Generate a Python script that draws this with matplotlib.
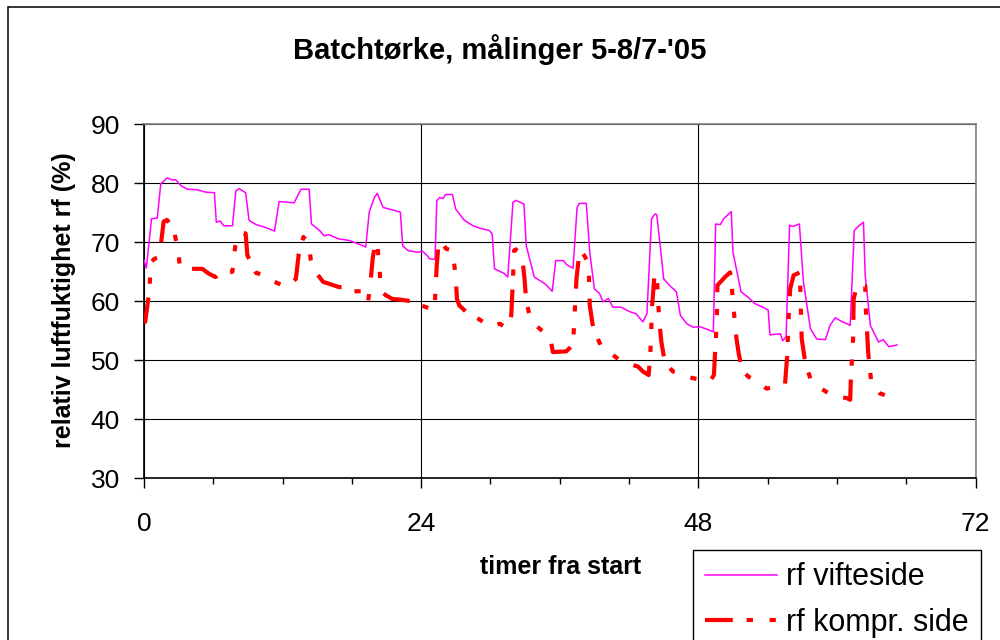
import numpy as np
import matplotlib
matplotlib.use("Agg")
import matplotlib.pyplot as plt
from matplotlib.patches import Rectangle

plt.rcParams['font.family'] = ['Liberation Sans', 'DejaVu Sans']
plt.rcParams['lines.scale_dashes'] = False

# rf vifteside (timer, %)
vifte_t = [0.0, 0.2, 0.65, 1.15, 1.45, 2.0, 2.4, 2.75, 3.2, 3.75, 4.6, 5.35, 6.1, 6.26, 6.6, 6.9, 7.66,
           7.95, 8.24, 8.8, 9.1, 9.7, 10.55, 11.3, 11.7, 13.0, 13.6, 14.3, 14.5, 15.2, 15.6, 16.0, 16.8,
           17.8, 18.6, 19.2, 19.5, 19.95, 20.2, 20.7, 21.5, 22.2, 22.4, 22.85, 23.7, 24.1, 24.6, 24.7,
           25.2, 25.35, 25.6, 25.9, 26.1, 26.7, 27.0, 27.75, 28.5, 29.05, 29.9, 30.15, 30.35, 31.2, 31.5,
           31.95, 32.2, 32.9, 33.1, 33.8, 34.7, 35.35, 35.65, 36.3, 36.6, 37.15, 37.5, 37.7, 38.3, 38.6,
           39.0, 39.45, 39.75, 40.2, 40.6, 41.3, 42.1, 42.6, 43.2, 43.55, 43.95, 44.25, 44.4, 44.7, 45.0,
           45.5, 46.1, 46.45, 47.0, 47.55, 48.1, 48.7, 49.3, 49.5, 49.9, 50.2, 50.85, 51.0, 51.7, 52.3,
           52.9, 53.6, 54.05, 54.2, 55.1, 55.3, 55.6, 55.9, 56.2, 56.75, 57.1, 57.7, 58.25, 59.0, 59.4,
           59.85, 60.4, 60.85, 61.15, 61.5, 61.9, 62.3, 62.45, 62.9, 63.6, 64.0, 64.5, 65.2]
vifte_rf = [67.0, 65.6, 74.0, 74.1, 79.9, 80.9, 80.6, 80.6, 79.6, 79.0, 78.9, 78.5, 78.4, 73.4, 73.6, 72.8, 72.8,
            78.7, 79.1, 78.4, 73.7, 73.0, 72.5, 71.9, 76.9, 76.7, 79.0, 79.0, 73.1, 72.0, 71.1, 71.3, 70.6,
            70.3, 69.7, 69.2, 75.1, 77.6, 78.3, 75.9, 75.5, 75.1, 69.4, 68.6, 68.3, 68.5, 67.6, 67.2,
            67.1, 77.0, 77.6, 77.4, 78.1, 78.1, 75.6, 73.7, 72.8, 72.4, 72.0, 71.4, 65.5, 64.7, 64.1,
            76.8, 77.1, 76.5, 69.4, 64.1, 63.0, 61.7, 66.9, 66.9, 66.2, 65.6, 75.9, 76.6, 76.6, 68.3,
            62.1, 61.3, 59.9, 60.5, 59.0, 59.0, 58.2, 57.9, 56.5, 57.9, 74.0, 74.8, 74.7, 69.4, 63.8,
            62.7, 61.6, 57.6, 56.2, 55.6, 55.7, 55.3, 54.8, 73.1, 73.0, 74.0, 75.2, 68.3, 61.6, 60.7,
            59.6, 59.0, 58.5, 54.3, 54.5, 53.3, 54.0, 72.9, 72.7, 73.1, 63.3, 55.4, 53.6, 53.5, 55.9,
            57.2, 56.6, 56.2, 55.9, 72.0, 72.8, 73.4, 64.4, 55.9, 53.1, 53.5, 52.3, 52.6]

# rf kompr. side (timer, %)
kompr_t = [0.0, 0.1, 0.45, 0.6, 0.9, 1.2, 1.45, 1.7, 2.0, 2.6, 3.0, 3.1, 3.5, 3.75, 5.05, 5.6, 6.2, 6.5, 7.65,
           7.9, 8.1, 8.5, 8.8, 8.95, 9.7, 10.55, 11.3, 12.0, 12.3, 13.15, 13.4, 13.8, 14.25, 14.45, 14.6,
           15.2, 15.5, 16.9, 17.5, 18.2, 19.1, 19.4, 19.6, 19.8, 20.0, 20.2, 20.4, 20.5, 20.95, 21.5,
           22.1, 23.55, 24.0, 25.15, 25.35, 25.5, 25.8, 26.15, 26.7, 26.8, 27.0, 27.1, 27.3, 27.9, 28.5,
           29.6, 30.1, 30.8, 31.45, 31.8, 31.95, 32.05, 32.2, 32.75, 32.95, 33.1, 33.5, 33.95, 35.2, 35.4,
           36.55, 37.15, 37.3, 37.45, 37.7, 37.9, 38.2, 38.5, 38.55, 38.6, 38.9, 39.6, 40.6, 41.2, 41.9,
           42.8, 43.2, 43.7, 43.85, 44.0, 44.2, 44.4, 44.6, 44.8, 45.1, 45.8, 46.25, 47.0, 48.4, 49.0,
           49.35, 49.45, 49.6, 49.65, 50.3, 50.75, 50.9, 51.05, 51.3, 51.5, 51.8, 52.35, 53.2, 53.9, 54.8,
           55.5, 55.7, 55.8, 55.95, 56.25, 56.8, 56.85, 56.95, 57.25, 57.7, 58.1, 58.8, 59.7, 60.85,
           61.15, 61.2, 61.4, 61.45, 61.6, 62.0, 62.45, 62.5, 62.6, 62.7, 63.0, 63.7, 64.9, 65.1]
kompr_rf = [57.0, 56.5, 61.5, 66.6, 67.2, 67.4, 69.4, 73.5, 73.8, 72.0, 68.0, 65.8, 65.9, 65.5, 65.5, 64.7, 64.1, 64.6, 65.0,
            69.3, 71.1, 71.6, 71.5, 67.8, 64.8, 64.4, 63.3, 62.7, 62.4, 63.8, 68.0, 70.9, 69.9, 66.9, 65.5,
            64.1, 63.3, 62.4, 62.4, 61.7, 61.7, 59.9, 63.0, 67.2, 69.7, 69.8, 65.5, 61.8, 61.0, 60.4,
            60.3, 59.9, 59.3, 58.5, 66.1, 69.7, 70.0, 68.9, 68.6, 67.5, 63.8, 60.4, 59.3, 58.2, 57.6,
            56.2, 55.7, 56.2, 55.4, 57.6, 63.8, 68.6, 68.8, 67.5, 63.8, 59.9, 56.8, 55.9, 53.7, 51.4,
            51.5, 52.6, 58.2, 63.8, 68.3, 68.4, 67.5, 66.1, 62.7, 59.3, 55.4, 52.3, 50.9, 50.0, 49.5,
            48.9, 48.1, 47.5, 51.4, 59.3, 64.4, 64.5, 57.1, 53.1, 49.7, 48.1, 47.9, 47.2, 46.6, 46.4,
            47.5, 51.4, 56.5, 62.7, 64.1, 64.9, 62.4, 58.8, 53.7, 51.1, 48.2, 47.2, 46.4, 45.2, 45.5,
            45.8, 50.9, 56.5, 62.1, 64.4, 64.9, 60.4, 53.7, 49.7, 46.9, 45.8, 45.0, 43.9, 43.6,
            43.3, 46.4, 53.7, 60.4, 61.6, 62.8, 62.6, 58.8, 55.4, 51.4, 45.8, 44.4, 43.6, 43.4]

x_ticks = [0, 24, 48, 72]
y_ticks = [30, 40, 50, 60, 70, 80, 90]

fig = plt.figure(figsize=(10, 6.4), dpi=100)
ax = fig.add_axes([0.144, 0.2527, 0.8315, 0.5531])

# ytre ramme rundt diagrammet
fig.patches.append(Rectangle((0.008, -0.2), 1.2, 1.189, transform=fig.transFigure,
                             fill=False, edgecolor='black', linewidth=1.1))

ax.plot(vifte_t, vifte_rf, color='#FF00FF', linewidth=1.1, label='rf vifteside', zorder=3)
ax.plot(kompr_t, kompr_rf, color='#FF0000', linewidth=3.0, label='rf kompr. side',
        dashes=(20, 10, 4.5, 12, 4.5, 12), dash_capstyle='butt', zorder=4)

ax.set_xlim(0, 72)
ax.set_ylim(30, 90)
ax.set_xticks(x_ticks)
ax.set_xticks(np.arange(0, 73, 6), minor=True)
ax.set_yticks(y_ticks)
ax.tick_params(axis='both', which='major', direction='out', length=7.2, width=1,
               labelsize=19, color='black')
ax.tick_params(axis='x', which='major', pad=17)
ax.tick_params(axis='y', which='major', pad=10)
ax.tick_params(axis='x', which='minor', direction='out', length=4, width=1)

ax.grid(True, which='major', color='black', linewidth=0.8)
ax.set_axisbelow(True)
for s in ['left', 'bottom']:
    ax.spines[s].set_color('black')
    ax.spines[s].set_linewidth(1.2)
for s in ['top', 'right']:
    ax.spines[s].set_color('#808080')
    ax.spines[s].set_linewidth(1.2)

fig.text(0.5, 1 - 50 / 640, "Batchtørke, målinger 5-8/7-'05", ha='center', va='center',
         fontsize=21, fontweight='bold')
fig.text(0.064, 1 - 300 / 640, 'relativ luftfuktighet rf (%)', rotation=90, ha='center', va='center',
         fontsize=18, fontweight='bold')
fig.text(0.561, 1 - 567 / 640, 'timer fra start', ha='center', va='center',
         fontsize=18, fontweight='bold')

leg = ax.legend(loc='upper left', bbox_to_anchor=(0.693, 1 - 550 / 640),
                bbox_transform=fig.transFigure, borderaxespad=0, fontsize=22,
                frameon=True, fancybox=False, edgecolor='black', framealpha=1,
                handlelength=2.35, handletextpad=0.3, labelspacing=0.5, borderpad=0.4)
leg.get_frame().set_linewidth(1.0)

fig.savefig('out.png', dpi=100)
